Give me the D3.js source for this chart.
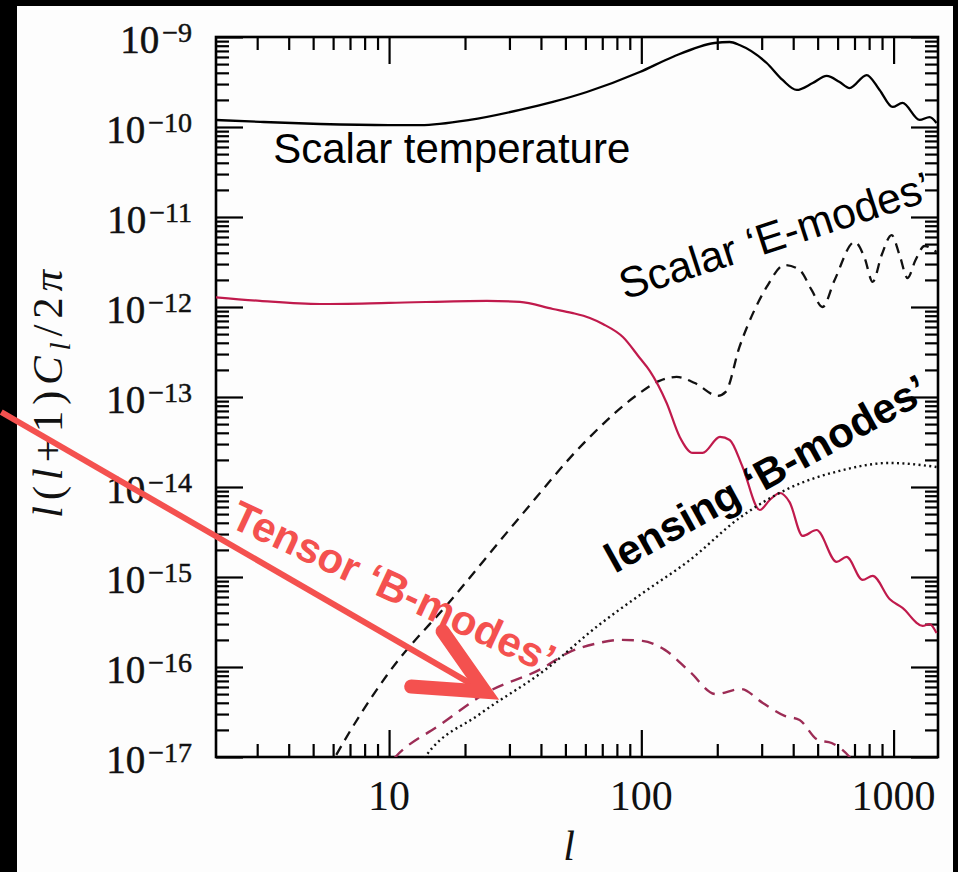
<!DOCTYPE html>
<html><head><meta charset="utf-8">
<script src="https://cdn.jsdelivr.net/npm/d3@7"></script>
<style>html,body{margin:0;padding:0;background:#000;} svg{display:block;}</style>
</head><body>
<svg id="c" width="958" height="872"></svg>
<script>
// ---------- data ----------
const ellTT = [2,3.08,5.33,10,13.3,20.9,33,44.6,60.8,98.6,133,195,224,245,314,363,413,478,543,611,669,782,880,991,1085,1268,1389,1480];
const clTT  = [1.20e-10,1.14e-10,1.08e-10,1.05e-10,1.05e-10,1.20e-10,1.55e-10,1.90e-10,2.45e-10,4.08e-10,6.0e-10,8.58e-10,8.8e-10,8.15e-10,5.14e-10,3.33e-10,2.58e-10,3.08e-10,3.69e-10,3.16e-10,2.71e-10,3.78e-10,2.58e-10,1.67e-10,1.85e-10,1.20e-10,1.29e-10,1.11e-10];

const ellEE = [5.33,6.11,9.82,17.9,33,60.8,96,118,138,163,201,216,245,281,314,370,424,473,523,584,701,768,826,897,982,1056,1136,1222,1327,1480];
const clEE  = [4.9e-18,1e-17,8.15e-17,5.84e-16,4.64e-15,3.33e-14,1.05e-13,1.51e-13,1.67e-13,1.43e-13,1.03e-13,1.14e-13,3.6e-13,9.27e-13,1.67e-12,2.93e-12,2.58e-12,1.55e-12,1.0e-12,2.0e-12,5.28e-12,3.5e-12,1.9e-12,3.78e-12,6.3e-12,3.78e-12,2.1e-12,3.33e-12,4.76e-12,4.08e-12];

const ellTensT = [2,3.08,5.33,10,24.4,33,44.6,53,62.5,70.4,84.5,98.6,108,126,142,160,175,205,224,252,295,323,354,387,436,495,595,651,754,826,964,1085,1303,1389,1480];
const clTensT  = [1.29e-12,1.17e-12,1.08e-12,1.11e-12,1.17e-12,1.14e-12,9.5e-13,8.6e-13,7.55e-13,6.47e-13,4.64e-13,2.71e-13,1.95e-13,8.58e-14,3.6e-14,2.39e-14,2.39e-14,3.6e-14,3.33e-14,1.67e-14,5.55e-15,7.17e-15,8.58e-15,6.8e-15,2.86e-15,3.33e-15,1.47e-15,1.67e-15,9.27e-16,1.03e-15,5.7e-16,4.53e-16,2.86e-16,3.0e-16,2.39e-16];

const ellTensB = [8.41,10.6,15.9,24.2,40,52.1,67.9,83,101,124,156,197,248,303,370,424,500,568,669,803];
const clTensB  = [4.3e-18,1e-17,2.27e-17,5.14e-17,9.5e-17,1.47e-16,1.85e-16,2.0e-16,1.95e-16,1.55e-16,8.8e-17,5.0e-17,5.7e-17,3.98e-17,2.86e-17,2.58e-17,1.55e-17,1.43e-17,1e-17,4.3e-18];

const ellLensB = [11.05,13.9,22.9,41.5,67.9,98.6,156,245,387,611,964,1480];
const clLensB  = [3.3e-18,1e-17,3.0e-17,9.27e-17,2.93e-16,6.3e-16,1.55e-15,4.53e-15,9.75e-15,1.51e-14,1.85e-14,1.67e-14];

const xTickValues = [10,100,1000];
const xTickLabels = ["10","100","1000"];
const yExponents  = [-9,-10,-11,-12,-13,-14,-15,-16,-17];

// ---------- layout ----------
const W = 958, H = 872;
const L = 216, R = 938, T = 37, B = 757;
const svg = d3.select("#c");

svg.append("rect").attr("width", W).attr("height", H).attr("fill", "#000");
svg.append("rect").attr("x", 17).attr("y", 6).attr("width", 953-17).attr("height", H-6).attr("fill", "#fdfdfd");

const x = d3.scaleLog().domain([2.06, 1500]).range([L, R]);
const y = d3.scaleLog().domain([1e-17, 1e-9]).range([B, T]);

svg.append("defs").append("clipPath").attr("id", "pa")
  .append("rect").attr("x", L).attr("y", T).attr("width", R-L).attr("height", B-T);

// minor ticks
const xMinor = [];
[1,10,100,1000].forEach(d => { for (let k = 2; k <= 9; k++) { const v = k*d; if (v > 2.06 && v < 1500) xMinor.push(v); } });
const yMinor = [];
for (let e = -17; e <= -10; e++) for (let k = 2; k <= 9; k++) yMinor.push(k*Math.pow(10, e));
const yMajor = yExponents.map(e => Math.pow(10, e));

const majorLen = 27, minorLen = 13;
function axisG(axis, tx, ty) {
  const g = svg.append("g").attr("transform", `translate(${tx},${ty})`).call(axis);
  g.select(".domain").remove();
  g.selectAll(".tick line").attr("stroke", "#000").attr("stroke-width", 2.2);
  g.selectAll(".tick text").remove();
  return g;
}
axisG(d3.axisBottom(x).tickValues(xTickValues).tickSize(-majorLen).tickFormat(""), 0, B);
axisG(d3.axisBottom(x).tickValues(xMinor).tickSize(-minorLen).tickFormat(""), 0, B);
axisG(d3.axisTop(x).tickValues(xTickValues).tickSize(-majorLen).tickFormat(""), 0, T);
axisG(d3.axisTop(x).tickValues(xMinor).tickSize(-minorLen).tickFormat(""), 0, T);
axisG(d3.axisLeft(y).tickValues(yMajor).tickSize(-majorLen).tickFormat(""), L, 0);
axisG(d3.axisLeft(y).tickValues(yMinor).tickSize(-minorLen).tickFormat(""), L, 0);
axisG(d3.axisRight(y).tickValues(yMajor).tickSize(-majorLen).tickFormat(""), R, 0);
axisG(d3.axisRight(y).tickValues(yMinor).tickSize(-minorLen).tickFormat(""), R, 0);

// frame
svg.append("rect").attr("x", L).attr("y", T).attr("width", R-L).attr("height", B-T)
  .attr("fill", "none").attr("stroke", "#000").attr("stroke-width", 2.6);

// y tick labels
const serif = "'Liberation Serif','Times New Roman',serif";
yExponents.forEach(e => {
  const t = svg.append("text").attr("x", 192).attr("y", y(Math.pow(10, e)) + 16)
    .attr("text-anchor", "end").attr("font-family", serif).attr("fill", "#111")
    .attr("stroke", "#111").attr("stroke-width", 0.5);
  t.append("tspan").attr("font-size", 39).text("10");
  t.append("tspan").attr("font-size", 28).attr("dx", 3).attr("dy", -11).text("\u2212" + Math.abs(e));
});
// x tick labels
xTickValues.forEach((v, i) => {
  svg.append("text").attr("x", x(v)).attr("y", 810).attr("text-anchor", "middle")
    .attr("font-family", serif).attr("font-size", 42).attr("fill", "#111").text(xTickLabels[i]);
});
// axis titles
svg.append("text").attr("x", (L+R)/2 - 8).attr("y", 860).attr("text-anchor", "middle")
  .attr("font-family", serif).attr("font-style", "italic").attr("font-size", 42).attr("fill", "#111").text("l");
const yl = svg.append("text").attr("transform", `translate(62,394) rotate(-90)`)
  .attr("text-anchor", "middle").attr("font-family", serif).attr("font-size", 43).attr("fill", "#111")
  .attr("textLength", 248).attr("lengthAdjust", "spacing");
yl.append("tspan").attr("font-style", "italic").text("l");
yl.append("tspan").text("(");
yl.append("tspan").attr("font-style", "italic").text("l");
yl.append("tspan").text("+1)");
yl.append("tspan").attr("font-style", "italic").text("C");
yl.append("tspan").attr("font-style", "italic").attr("font-size", 29).attr("dy", 8).text("l");
yl.append("tspan").attr("dy", -8).text("/2");
yl.append("tspan").attr("font-style", "italic").text("\u03C0");

// ---------- curves ----------
const line = d3.line().x(d => x(d[0])).y(d => y(d[1])).curve(d3.curveMonotoneX);
const plot = svg.append("g").attr("clip-path", "url(#pa)");
function curve(ls, cs, color, width, dash) {
  const p = plot.append("path").datum(ls.map((l, i) => [l, cs[i]]))
    .attr("d", line).attr("fill", "none").attr("stroke", color).attr("stroke-width", width)
    .attr("stroke-linejoin", "round");
  if (dash) p.attr("stroke-dasharray", dash);
  return p;
}
curve(ellTT, clTT, "#000", 2.3);
curve(ellEE, clEE, "#111", 2.3, "10,7");
curve(ellTensT, clTensT, "#c01a4c", 2.2);
curve(ellTensB, clTensB, "#9c2c55", 2.4, "12,8");
curve(ellLensB, clLensB, "#111", 2.4, "2,3.4");

// ---------- annotations ----------
const sans = "'Liberation Sans',Arial,Helvetica,sans-serif";
svg.append("text").attr("x", x(3.47)).attr("y", y(3.98e-11))
  .attr("font-family", sans).attr("font-size", 42).attr("fill", "#000").text("Scalar temperature");
svg.append("text").attr("transform", `translate(${x(86)},${y(1.2e-12)}) rotate(-18)`)
  .attr("font-family", sans).attr("font-size", 43).attr("fill", "#000").text("Scalar \u2018E-modes\u2019");
svg.append("text").attr("transform", `translate(${x(78.5)},${y(1.08e-15)}) rotate(-29)`)
  .attr("font-family", sans).attr("font-weight", "bold").attr("font-size", 42).attr("fill", "#000").text("lensing \u2018B-modes\u2019");

const red = "#f4514f";
// arrow (tail off the left edge, tip on the tensor B-mode curve)
const tip = [x(24), y(5.3e-17)], tail = [x(0.29), y(6.8e-14)];
const dx = tail[0]-tip[0], dy = tail[1]-tip[1], len = Math.hypot(dx, dy);
const ux = dx/len, uy = dy/len;
function rot(a) { const c = Math.cos(a), s = Math.sin(a); return [ux*c - uy*s, ux*s + uy*c]; }
const a1 = rot(25*Math.PI/180), a2 = rot(-26*Math.PI/180), armLen = 74;
svg.append("line").attr("x1", tail[0]).attr("y1", tail[1]).attr("x2", tip[0]+ux*10).attr("y2", tip[1]+uy*10)
  .attr("stroke", red).attr("stroke-width", 6);
svg.append("path").attr("d", `M${tip[0]+a1[0]*armLen},${tip[1]+a1[1]*armLen}L${tip[0]},${tip[1]}L${tip[0]+a2[0]*armLen},${tip[1]+a2[1]*armLen}`)
  .attr("fill", "none").attr("stroke", red).attr("stroke-width", 14).attr("stroke-linecap", "round").attr("stroke-linejoin", "miter");
svg.append("text").attr("transform", `translate(${x(2.30)},${y(3.69e-15)}) rotate(25)`)
  .attr("font-family", sans).attr("font-weight", "bold").attr("font-size", 42).attr("fill", red).text("Tensor \u2018B-modes\u2019");
</script>
</body></html>
